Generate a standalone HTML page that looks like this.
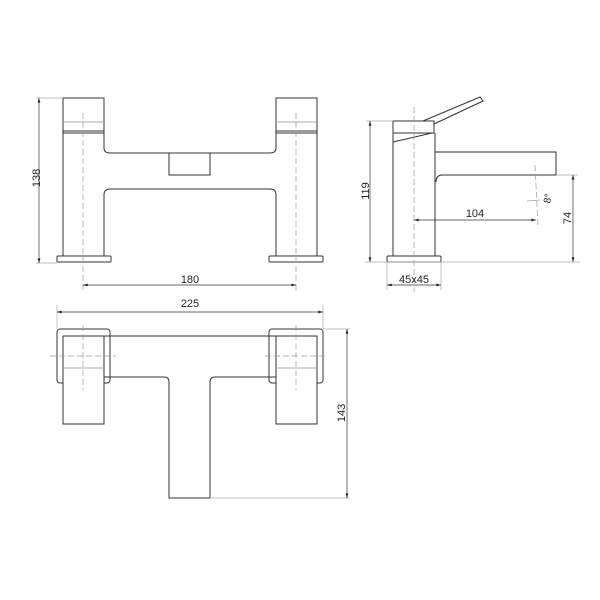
<!DOCTYPE html>
<html><head><style>body{margin:0;background:#fff}svg{display:block}text{font-family:"Liberation Sans",sans-serif;font-size:11px;fill:#222}</style></head><body>
<svg width="600" height="600" viewBox="0 0 600 600" xmlns="http://www.w3.org/2000/svg">
<defs><marker id="a" viewBox="0 0 10 6" refX="10" refY="3" markerWidth="8" markerHeight="4" orient="auto-start-reverse"><path d="M0,0L10,3L0,6z" fill="#222"/></marker></defs>
<g fill="none" stroke="#333" stroke-width="1">
<!-- front view -->
<rect x="63" y="98" width="41" height="35"/><line x1="63" y1="131" x2="104" y2="131"/>
<rect x="276" y="98" width="41" height="35"/><line x1="276" y1="131" x2="317" y2="131"/>
<line x1="63" y1="122" x2="104" y2="122" stroke="#aaa"/><line x1="276" y1="122" x2="317" y2="122" stroke="#aaa"/>
<path d="M63,133V256M104,133V148Q104,153 110,153H270Q276,153 276,148V133M317,133V256"/>
<path d="M104,256V195Q104,189 110,189H270Q276,189 276,195V256"/>
<rect x="57" y="256" width="54" height="6" rx="1"/><rect x="269" y="256" width="54" height="6" rx="1"/>
<rect x="169" y="153" width="41" height="22"/>
<!-- side view -->
<rect x="393" y="121" width="41" height="12"/>
<path d="M393,142L432,133M393,133V256M435,133V256M423,121L480,97L483,101L434,124"/>
<path d="M435,152H556V175H441Q436,176 436,182"/>
<rect x="387" y="256" width="54" height="6" rx="1"/>
<!-- top view -->
<rect x="57" y="329" width="53" height="54" rx="3"/><rect x="269" y="329" width="54" height="54" rx="3"/>
<path d="M63,336H104V424H63Z M276,336H317V424H276Z" fill="#fff"/>
<path d="M104,336H276M104,377H164Q169,377 169,382V498H210V382Q210,377 215,377H276"/>
<line x1="63" y1="368" x2="104" y2="368" stroke="#aaa"/><line x1="276" y1="368" x2="317" y2="368" stroke="#aaa"/>
</g>
<g stroke="#999" stroke-width="0.7" fill="none" stroke-dasharray="6,3">
<line x1="83" y1="113" x2="83" y2="292"/><line x1="296" y1="113" x2="296" y2="292"/>
<line x1="414" y1="107" x2="414" y2="292"/><line x1="535" y1="165" x2="538" y2="226"/>
<line x1="83" y1="325" x2="83" y2="390"/><line x1="50" y1="356" x2="116" y2="356"/>
<line x1="296" y1="325" x2="296" y2="390"/><line x1="265" y1="356" x2="328" y2="356"/>
</g>
<g stroke="#aaa" stroke-width="0.7" fill="none">
<line x1="36" y1="98" x2="63" y2="98"/><line x1="36" y1="263" x2="57" y2="263"/>
<line x1="366" y1="121" x2="393" y2="121"/><line x1="365" y1="262" x2="580" y2="262"/>
<line x1="556" y1="175" x2="578" y2="175"/><line x1="387" y1="262" x2="387" y2="290"/><line x1="441" y1="262" x2="441" y2="290"/>
<line x1="57" y1="305" x2="57" y2="329"/><line x1="323" y1="305" x2="323" y2="329"/>
<line x1="323" y1="329" x2="350" y2="329"/><line x1="210" y1="498" x2="350" y2="498"/>
<line x1="527" y1="201" x2="540" y2="200"/>
</g>
<g stroke="#333" stroke-width="0.7" marker-start="url(#a)" marker-end="url(#a)">
<line x1="39" y1="98" x2="39" y2="263"/><line x1="83" y1="285" x2="296" y2="285"/>
<line x1="370" y1="121" x2="370" y2="262"/><line x1="573" y1="175" x2="573" y2="262"/>
<line x1="414" y1="220" x2="536" y2="220"/><line x1="387" y1="285" x2="441" y2="285"/>
<line x1="57" y1="312" x2="323" y2="312"/><line x1="347" y1="329" x2="347" y2="498"/>
</g>
<text x="190" y="283" text-anchor="middle">180</text>
<text transform="translate(40,178) rotate(-90)" text-anchor="middle">138</text>
<text transform="translate(369,191) rotate(-90)" text-anchor="middle">119</text>
<text transform="translate(571,218) rotate(-90)" text-anchor="middle">74</text>
<text x="475" y="217" text-anchor="middle">104</text>
<text x="414" y="283" text-anchor="middle">45x45</text>
<text transform="translate(551,199) rotate(-80)" text-anchor="middle" style="font-size:10px">8°</text>
<text x="190" y="307" text-anchor="middle">225</text>
<text transform="translate(345,413) rotate(-90)" text-anchor="middle">143</text>
</svg>
</body></html>
